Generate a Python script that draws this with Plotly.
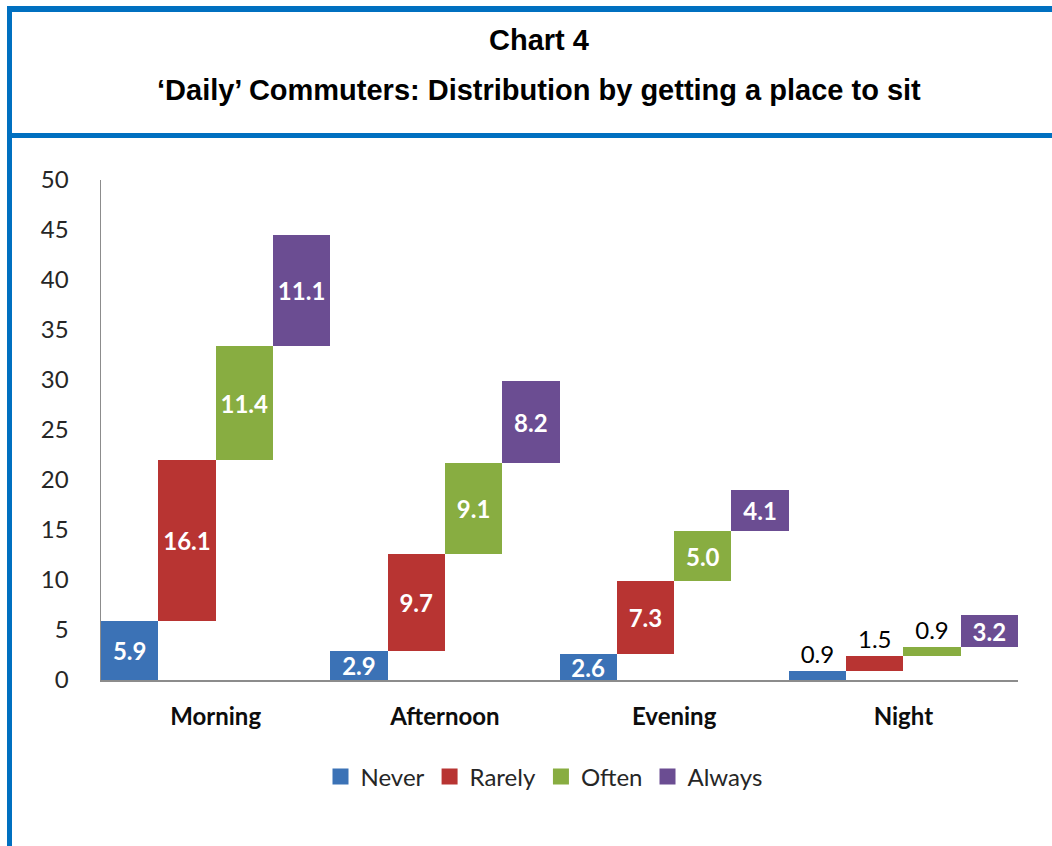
import plotly.graph_objects as go

# Share of 'daily' commuters by how often they get a seat, per time of travel
periods = ["Morning", "Afternoon", "Evening", "Night"]
never = [5.9, 2.9, 2.6, 0.9]
rarely = [16.1, 9.7, 7.3, 1.5]
often = [11.4, 9.1, 5.0, 0.9]
always = [11.1, 8.2, 4.1, 3.2]

series = [
    ("Never", never, "#3B72B6"),
    ("Rarely", rarely, "#B83432"),
    ("Often", often, "#88AD41"),
    ("Always", always, "#6B4D92"),
]

# Labels that would not fit inside a thin bar are drawn above it
small_limit = 2.0

LABEL_FONT = "Lato, 'Open Sans', sans-serif"
TITLE_FONT = "'Liberation Sans', Arial, sans-serif"

fig = go.Figure()

base = [0.0] * len(periods)
for name, values, color in series:
    texts, positions, colors = [], [], []
    for v in values:
        if v < small_limit:
            texts.append(f"{v:.1f}")
            positions.append("outside")
            colors.append("#000000")
        else:
            texts.append(f"<b>{v:.1f}</b>")
            positions.append("inside")
            colors.append("#FFFFFF")
    fig.add_trace(go.Bar(
        name=name,
        x=periods,
        y=values,
        base=list(base),
        marker=dict(color=color, line=dict(width=0)),
        text=texts,
        textposition=positions,
        insidetextanchor="middle",
        textfont=dict(family=LABEL_FONT, size=24, color=colors),
        constraintext="none",
        cliponaxis=False,
        hoverinfo="skip",
        showlegend=False,
    ))
    base = [b + v for b, v in zip(base, values)]

# legend keys as square markers
for name, _, color in series:
    fig.add_trace(go.Scatter(
        name=name, x=[None], y=[None], mode="markers",
        marker=dict(symbol="square", size=16, color=color),
        hoverinfo="skip", showlegend=True,
    ))

# plot area in pixels
L, R, T, B = 101, 1018, 180, 680
W, H = 1052, 846


def px(x):
    return (x - L) / (R - L)


def py(y):
    return (B - y) / (B - T)


frame_blue = "#0070C0"
shapes = [
    # top rule of the title box
    dict(type="rect", xref="paper", yref="paper", x0=px(7), x1=px(W + 5),
         y0=py(6), y1=py(12), fillcolor=frame_blue, line=dict(width=0), layer="above"),
    # rule under the title box
    dict(type="rect", xref="paper", yref="paper", x0=px(7), x1=px(W + 5),
         y0=py(133), y1=py(138), fillcolor=frame_blue, line=dict(width=0), layer="above"),
    # left edge of the frame
    dict(type="rect", xref="paper", yref="paper", x0=px(7), x1=px(12),
         y0=py(6), y1=py(H + 5), fillcolor=frame_blue, line=dict(width=0), layer="above"),
]

annotations = [
    dict(text="<b>Chart 4</b>", xref="paper", yref="paper", x=px(539), y=py(40),
         xanchor="center", yanchor="middle", showarrow=False,
         font=dict(family=TITLE_FONT, size=29, color="#000000")),
    dict(text="<b>\u2018Daily\u2019 Commuters: Distribution by getting a place to sit</b>",
         xref="paper", yref="paper", x=px(539), y=py(90),
         xanchor="center", yanchor="middle", showarrow=False,
         font=dict(family=TITLE_FONT, size=29, color="#000000")),
]

fig.update_layout(
    width=W,
    height=H,
    margin=dict(l=L, r=W - R, t=T, b=H - B, pad=0),
    paper_bgcolor="#FFFFFF",
    plot_bgcolor="#FFFFFF",
    barmode="group",
    bargap=0,
    bargroupgap=0,
    shapes=shapes,
    annotations=annotations,
    showlegend=True,
    legend=dict(
        orientation="h",
        x=px(544), y=py(777), xanchor="center", yanchor="middle",
        font=dict(family=LABEL_FONT, size=24, color="#262626"),
        itemwidth=30,
        bgcolor="rgba(0,0,0,0)",
    ),
    font=dict(family=LABEL_FONT, color="#262626"),
)

fig.update_xaxes(
    showline=True, linecolor="#8C8C8C", linewidth=1.5,
    ticks="", showgrid=False, zeroline=False,
    tickfont=dict(family=LABEL_FONT, size=24, color="#0D0D0D", weight="bold"),
    ticklabelstandoff=15,
)
fig.update_yaxes(
    range=[0, 50], dtick=5, tick0=0,
    showline=True, linecolor="#8C8C8C", linewidth=1.5,
    ticks="", showgrid=False, zeroline=False,
    tickfont=dict(family=LABEL_FONT, size=24, color="#262626"),
    ticklabelstandoff=26,
)

fig.write_html("out.html", config={"displayModeBar": False, "staticPlot": True})
